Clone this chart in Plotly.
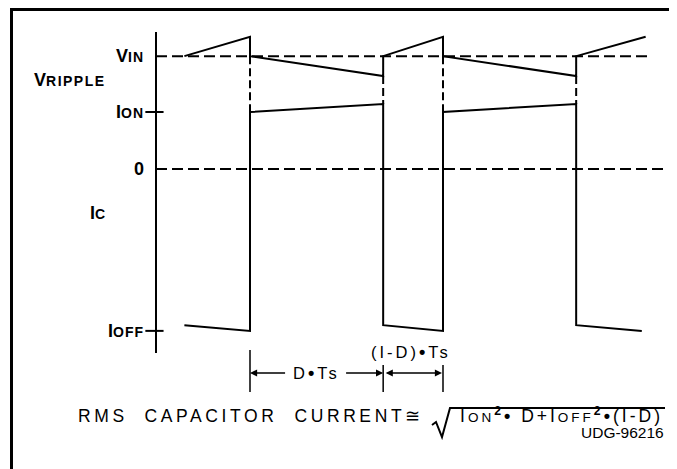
import plotly.graph_objects as go

# the page body adds an 8px margin; the figure is sized so it fills the window from there
OFF = 8
W_REF, H_REF = 677, 469
W, H = W_REF - OFF, H_REF - OFF
FONT = "Liberation Sans, Arial, Helvetica, sans-serif"

# ---------------- data (time in units of Ts, levels in arbitrary units) ----------------
# capacitor ripple voltage waveform
V_T = [-0.34, 0.0, 0.0, 0.69, 0.69, 1.0, 1.0, 1.69, 1.69, 2.05]
V_Y = [1.98, 2.32, 1.98, 1.63, 1.98, 2.32, 1.98, 1.63, 1.98, 2.32]
# capacitor current waveform
I_T = [-0.34, 0.0, 0.0, 0.69, 0.69, 1.0, 1.0, 1.69, 1.69, 2.03]
I_Y = [-2.74, -2.84, 1.0, 1.14, -2.74, -2.84, 1.0, 1.14, -2.74, -2.84]
# switching instants with dashed connectors between voltage and current traces
CONN_T = [0.0, 0.69, 1.0, 1.69]
CONN_TOP = [1.98, 1.63, 1.98, 1.63]
CONN_BOT = [1.0, 1.14, 1.0, 1.14]
# dashed reference levels (VIN and zero) and where they end
REF_LEVELS = [1.98, 0.0]
REF_END_T = [2.07, 2.15]
# axis level labels
TICK_VALS = [1.98, 1.0, 0.0, -2.84]
TICK_TEXT_PARTS = [("V", "IN"), ("I", "ON"), ("0", ""), ("I", "OFF")]
CROSS_TICKS = [1.0, -2.84]
# dimension marks
D_START, D_END, PERIOD_END = 0.0, 0.69, 1.0

# ---------------- layout geometry (reference pixel positions) ----------------
X0_PX, PX_PER_T = 250.0, 193.0
Y0_PX, PX_PER_V = 169.0, 57.0


def tx(px):
    return (px - X0_PX) / PX_PER_T


def vy(py):
    return (Y0_PX - py) / PX_PER_V


def pxp(px):
    return (px - OFF) / W


def pyp(py):
    return 1 - (py - OFF) / H


XR = [tx(OFF), tx(W_REF)]
YR = [vy(H_REF), vy(OFF)]

T_AXIS = tx(156)
AX_TOP, AX_BOT = vy(32), vy(353)


def sc(big, small, bs=18, ss=14, ls=1):
    s = f'<span style="font-size:{bs}px">{big}</span>'
    if small:
        s += f'<span style="font-size:{ss}px;letter-spacing:{ls}px">{small}</span>'
    return "<b>" + s + "</b>"


TICK_TEXT = [sc(b, s) for b, s in TICK_TEXT_PARTS]

LINE = dict(color="black", width=2)
DASH_H = dict(color="black", width=2, dash="11px,5px")
DASH_V = dict(color="black", width=2, dash="8px,4px")

fig = go.Figure()

# waveforms
fig.add_trace(go.Scatter(x=V_T, y=V_Y, mode="lines", line=LINE, hoverinfo="skip"))
fig.add_trace(go.Scatter(x=I_T, y=I_Y, mode="lines", line=LINE, hoverinfo="skip"))

# dashed connectors
cx, cy = [], []
for t, a, b in zip(CONN_T, CONN_TOP, CONN_BOT):
    cx += [t, t, None]
    cy += [a, b, None]
fig.add_trace(go.Scatter(x=cx, y=cy, mode="lines", line=DASH_V, hoverinfo="skip"))

# dashed reference levels
for lev, te in zip(REF_LEVELS, REF_END_T):
    fig.add_trace(go.Scatter(x=[T_AXIS, te], y=[lev, lev], mode="lines", line=DASH_H, hoverinfo="skip"))

# vertical axis line
fig.add_trace(go.Scatter(x=[T_AXIS, T_AXIS], y=[AX_TOP, AX_BOT], mode="lines", line=LINE, hoverinfo="skip"))
# cross ticks
fig.add_trace(go.Scatter(x=[T_AXIS - 0.008] * len(CROSS_TICKS), y=CROSS_TICKS, mode="markers",
                         marker=dict(symbol="line-ew", size=13, line=dict(color="black", width=2)),
                         cliponaxis=False, hoverinfo="skip"))

# dimension ticks
DIM_TOP_LONG, DIM_TOP, DIM_BOT, DIM_Y = vy(350), vy(365), vy(392), vy(373)
dx, dy = [], []
for t, top in zip([D_START, D_END, PERIOD_END], [DIM_TOP_LONG, DIM_TOP, DIM_TOP]):
    dx += [t, t, None]
    dy += [top, DIM_BOT, None]
fig.add_trace(go.Scatter(x=dx, y=dy, mode="lines", line=dict(color="black", width=1.5), hoverinfo="skip"))

annotations = []


def arrow(x_head, x_tail, y, side="end", standoff=0):
    annotations.append(dict(
        x=x_head, y=y, ax=x_tail, ay=y, xref="x", yref="y", axref="x", ayref="y",
        text="", showarrow=True, arrowhead=2, arrowside=side, arrowsize=1.1, arrowwidth=1.3,
        arrowcolor="black", standoff=standoff, startstandoff=standoff,
    ))


mid_d = (D_START + D_END) / 2
mid_off = (D_END + PERIOD_END) / 2
arrow(D_START, mid_d - tx(250 + 30), DIM_Y)
arrow(D_END, mid_d + tx(250 + 28), DIM_Y)
arrow(PERIOD_END, D_END, DIM_Y, side="end+start", standoff=1)

BUL = '<b><span style="font-size:18px">•</span></b>'
annotations.append(dict(x=mid_d, y=DIM_Y, xref="x", yref="y", showarrow=False,
                        text=f'<span style="letter-spacing:3px">D{BUL}Ts</span>',
                        font=dict(family=FONT, size=16.5, color="black")))
annotations.append(dict(x=mid_off - tx(250 + 2), y=vy(352), xref="x", yref="y", showarrow=False,
                        text=f'<span style="letter-spacing:3px">(I-D){BUL}Ts</span>',
                        font=dict(family=FONT, size=16.5, color="black")))

# axis side labels
annotations.append(dict(x=pxp(108), y=vy(80), xref="paper", yref="y", xanchor="right", showarrow=False,
                        text=sc("V", "RIPPLE", 18, 14, 1.5), font=dict(family=FONT, size=18, color="black")))
annotations.append(dict(x=pxp(108), y=vy(213), xref="paper", yref="y", xanchor="right", showarrow=False,
                        text=sc("I", "C", 18, 14, 1), font=dict(family=FONT, size=18, color="black")))

# formula
annotations.append(dict(x=pxp(76), y=pyp(428), xref="paper", yref="paper", xanchor="left", showarrow=False,
                        text='<span style="letter-spacing:3.6px">RMS\u00a0 CAPACITOR\u00a0 CURRENT</span>≅',
                        font=dict(family=FONT, size=17.5, color="black")))
SM = '<span style="font-size:13.5px">{}</span>'
SUP2 = "<sup><b>2</b></sup>"
annotations.append(dict(x=pxp(458), y=pyp(428), xref="paper", yref="paper", xanchor="left", showarrow=False,
                        text=('<span style="letter-spacing:3px">I' + SM.format("ON") + SUP2 + BUL
                              + "\u00a0D+I" + SM.format("OFF") + SUP2 + BUL + "(I-D)</span>"),
                        font=dict(family=FONT, size=17.5, color="black")))
annotations.append(dict(x=pxp(666), y=pyp(443), xref="paper", yref="paper", xanchor="right", showarrow=False,
                        text="UDG-96216", font=dict(family=FONT, size=15.5, color="black")))

shapes = [
    # frame
    dict(type="line", xref="paper", yref="paper", x0=pxp(11.5), x1=pxp(11.5), y0=0, y1=pyp(8),
         line=dict(color="black", width=3)),
    dict(type="line", xref="paper", yref="paper", x0=pxp(10), x1=1, y0=pyp(9.5), y1=pyp(9.5),
         line=dict(color="black", width=3)),
    # radical sign with overline
    dict(type="path", xref="paper", yref="paper",
         path=(f"M {pxp(432)},{pyp(425)} L {pxp(436)},{pyp(422)} L {pxp(442)},{pyp(437)} "
               f"L {pxp(450)},{pyp(408)} L {pxp(665)},{pyp(408)}"),
         line=dict(color="black", width=2)),
]

fig.update_layout(
    width=W, height=H, margin=dict(l=0, r=0, t=0, b=0),
    paper_bgcolor="white", plot_bgcolor="white", showlegend=False,
    font=dict(family=FONT, color="black"),
    xaxis=dict(range=XR, visible=False, fixedrange=True),
    yaxis=dict(range=YR, showgrid=False, zeroline=False, showline=False,
               anchor="free", position=pxp(156), side="left",
               tickmode="array", tickvals=TICK_VALS, ticktext=TICK_TEXT,
               ticks="", ticklabelstandoff=12, tickfont=dict(family=FONT, size=18, color="black"),
               fixedrange=True),
    annotations=annotations, shapes=shapes,
)

fig.write_html("out.html")
